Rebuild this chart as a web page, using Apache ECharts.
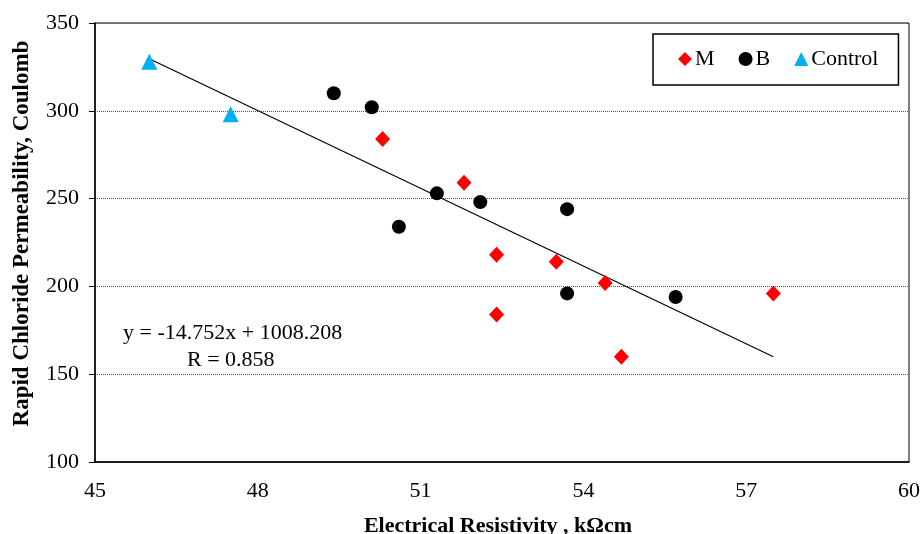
<!DOCTYPE html>
<html>
<head>
<meta charset="utf-8">
<script src="https://cdn.jsdelivr.net/npm/echarts@6/dist/echarts.min.js"></script>
<style>
  html, body { margin: 0; padding: 0; background: #fff; }
  #chart { width: 922px; height: 534px; }
</style>
</head>
<body>
<div id="chart"></div>
<script>
// M series (diamonds)
var mData = [[50.3, 284], [51.8, 259], [52.4, 218], [52.4, 184], [53.5, 214], [54.4, 202], [54.7, 160], [57.5, 196]];
// B series (circles)
var bData = [[49.4, 310], [50.1, 302], [51.3, 253], [50.6, 234], [52.1, 248], [53.7, 244], [53.7, 196], [55.7, 194]];
// Control series (triangles)
var controlData = [[46.0, 328], [47.5, 298]];

// regression line printed on the chart
var slope = -14.752;
var intercept = 1008.208;
var trendRange = [46.0, 57.5];
var trendData = trendRange.map(function (x) { return [x, slope * x + intercept]; });

var font = '"Liberation Serif", "Times New Roman", serif';

var chart = echarts.init(document.getElementById('chart'));
chart.setOption({
  animation: false,
  textStyle: { fontFamily: font },
  grid: {
    left: 95, right: 13, top: 23, bottom: 72,
    outerBoundsMode: 'none', containLabel: false,
    show: true, borderColor: '#000', borderWidth: 1
  },
  legend: {
    data: [
      { name: 'M', icon: 'diamond' },
      { name: 'B', icon: 'circle' },
      { name: 'Control', icon: 'triangle' }
    ],
    left: 653, top: 34,
    padding: [14, 20, 15, 25],
    itemGap: 24,
    itemWidth: 14, itemHeight: 14,
    borderColor: '#000', borderWidth: 1.5, borderRadius: 0,
    textStyle: { fontFamily: font, fontSize: 22, color: '#000', padding: [0, 0, 0, -2] }
  },
  xAxis: {
    type: 'value',
    min: 45, max: 60, interval: 3,
    name: 'Electrical Resistivity , k\u03A9cm',
    nameLocation: 'middle', nameGap: 53,
    nameTextStyle: { fontFamily: font, fontSize: 22, fontWeight: 'bold', color: '#000', padding: [0, 8, 0, 0] },
    axisLine: { lineStyle: { color: '#000', width: 1.5 } },
    axisTick: { show: false },
    axisLabel: { fontFamily: font, fontSize: 22, color: '#000', margin: 18 },
    splitLine: { show: false }
  },
  yAxis: {
    type: 'value',
    min: 100, max: 350, interval: 50,
    name: 'Rapid Chloride Permeability, Coulomb',
    nameLocation: 'middle', nameGap: 61,
    nameTextStyle: { fontFamily: font, fontSize: 23, fontWeight: 'bold', color: '#000', padding: [0, 0, 0, 18] },
    axisLine: { lineStyle: { color: '#000', width: 1.5 } },
    axisTick: { show: true, inside: false, length: 6, lineStyle: { color: '#000' } },
    axisLabel: { fontFamily: font, fontSize: 22, color: '#000', margin: 16 },
    splitLine: { show: true, lineStyle: { color: '#555', type: 'dotted', width: 1 } }
  },
  series: [
    {
      name: 'M', type: 'scatter', data: mData,
      symbol: 'diamond', symbolSize: [15, 16],
      itemStyle: { color: '#ff0000', opacity: 1 }
    },
    {
      name: 'B', type: 'scatter', data: bData,
      symbol: 'circle', symbolSize: 14,
      itemStyle: { color: '#000000', opacity: 1 }
    },
    {
      name: 'Control', type: 'scatter', data: controlData,
      symbol: 'triangle', symbolSize: 16,
      itemStyle: { color: '#00b0f0', opacity: 1 }
    },
    {
      name: 'Trend', type: 'line', data: trendData,
      symbol: 'none', silent: true,
      lineStyle: { color: '#000', width: 1.2 },
      z: 1
    }
  ],
  graphic: [
    {
      type: 'text', left: 123, top: 322,
      style: { text: 'y = -14.752x + 1008.208', font: '22px ' + font, fill: '#000' }
    },
    {
      type: 'text', left: 187, top: 349,
      style: { text: 'R = 0.858', font: '22px ' + font, fill: '#000' }
    }
  ]
});
</script>
</body>
</html>
